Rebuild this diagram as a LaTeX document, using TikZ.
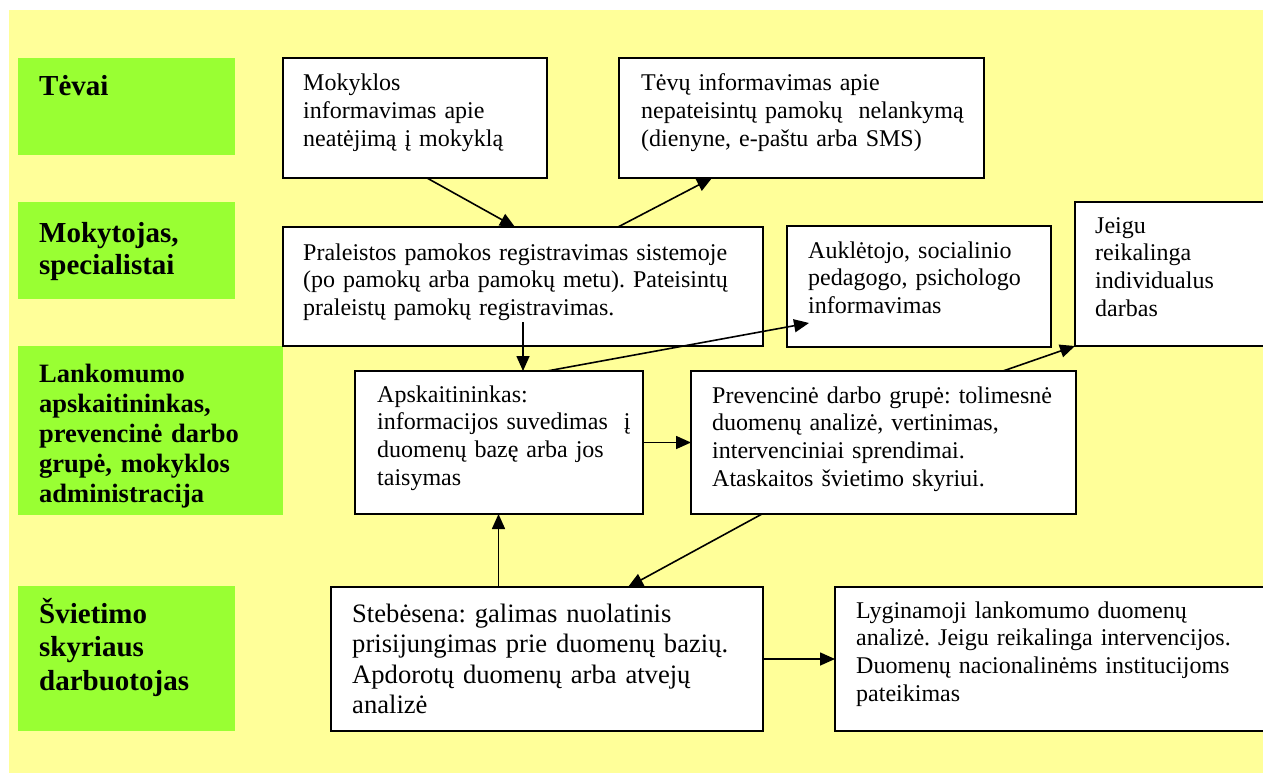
\documentclass[tikz,border=0pt]{standalone}
\usepackage{fontspec}
\setmainfont{Liberation Serif}
\usetikzlibrary{arrows.meta}
\definecolor{bgyellow}{RGB}{255,255,153}
\definecolor{lanegreen}{RGB}{153,255,51}
\frenchspacing
\begin{document}
\begin{tikzpicture}[x=1pt,y=-1pt,
  lane/.style={fill=lanegreen, draw=none, inner sep=0pt, outer sep=0pt, anchor=north west},
  box/.style={fill=white, draw=black, line width=2pt, inner sep=0pt, outer sep=0pt, anchor=north west},
  lanetext/.style={anchor=base west, inner sep=0pt, text width=300pt, align=left, font=\fontsize{29}{32}\selectfont\bfseries},
  bodytext/.style={anchor=base west, inner sep=0pt, text width=600pt, align=left, font=\fontsize{24}{27.7}\selectfont},
  arr/.style={-{Triangle[length=15pt,width=13pt]}, line width=1.6pt, draw=black}
]
\useasboundingbox (0,0) rectangle (1263,773);
\fill[bgyellow] (9,10) rectangle (1263,773);

% lanes
\node[lane, minimum width=217pt, minimum height=97pt] (l1) at (18,58) {};
\node[lane, minimum width=217pt, minimum height=97pt] (l2) at (18,202) {};
\node[lane, minimum width=265pt, minimum height=169pt] (l3) at (18,346) {};
\node[lane, minimum width=217pt, minimum height=145pt] (l4) at (18,586) {};

\node[lanetext] (t1) at (39,96) {Tėvai};
\node[lanetext] (t2) at (39,242) {Mokytojas,\\specialistai};
\node[lanetext, font=\fontsize{26.5}{30}\selectfont\bfseries] (t3) at (39,382) {Lankomumo\\apskaitininkas,\\prevencinė darbo\\grupė, mokyklos\\administracija};
\node[lanetext, font=\fontsize{29}{33.5}\selectfont\bfseries] (t4) at (39,623) {Švietimo\\skyriaus\\darbuotojas};

% boxes
\node[box, minimum width=264pt, minimum height=120pt] (sch) at (283,58) {};
\node[box, minimum width=365pt, minimum height=120pt] (par) at (619,58) {};
\node[box, minimum width=480pt, minimum height=119pt] (reg) at (283,227) {};
\node[box, minimum width=264pt, minimum height=121pt] (auk) at (787,226) {};
\node[box, minimum width=200pt, minimum height=144pt] (jei) at (1075,202) {};
\node[box, minimum width=288pt, minimum height=143pt] (aps) at (355,371) {};
\node[box, minimum width=385pt, minimum height=143pt] (prev) at (691,371) {};
\node[box, minimum width=432pt, minimum height=144pt] (steb) at (331,587) {};
\node[box, minimum width=440pt, minimum height=144pt] (lyg) at (835,587) {};

% box texts
\node[bodytext] (sch-t) at (303,91) {Mokyklos\\informavimas apie\\neatėjimą į mokyklą};
\node[bodytext] (par-t) at (641,91) {Tėvų informavimas apie\\nepateisintų pamokų\ \ nelankymą\\(dienyne, e-paštu arba SMS)};
\node[bodytext] (reg-t) at (303,260) {Praleistos pamokos registravimas sistemoje\\(po pamokų arba pamokų metu). Pateisintų\\praleistų pamokų registravimas.};
\node[bodytext] (auk-t) at (808,258) {Auklėtojo, socialinio\\pedagogo, psichologo\\informavimas};
\node[bodytext] (jei-t) at (1095,233) {Jeigu\\reikalinga\\individualus\\darbas};
\node[bodytext] (aps-t) at (377,402) {Apskaitininkas:\\informacijos suvedimas\ \ į\\duomenų bazę arba jos\\taisymas};
\node[bodytext] (prev-t) at (712,403) {Prevencinė darbo grupė: tolimesnė\\duomenų analizė, vertinimas,\\intervenciniai sprendimai.\\Ataskaitos švietimo skyriui.};
\node[bodytext, font=\fontsize{26.6}{30.6}\selectfont] (steb-t) at (352,622) {Stebėsena: galimas nuolatinis\\prisijungimas prie duomenų bazių.\\Apdorotų duomenų arba atvejų\\analizė};
\node[bodytext] (lyg-t) at (856,618) {Lyginamoji lankomumo duomenų\\analizė. Jeigu reikalinga intervencijos.\\Duomenų nacionalinėms institucijoms\\pateikimas};

% connectors
\draw[arr] ([xshift=144pt]sch.south west) -- ([xshift=232pt]reg.north west);
\draw[arr] ([xshift=335pt]reg.north west) -- ([xshift=93pt]par.south west);
\draw[arr] ([xshift=240pt,yshift=24pt]reg.south west) -- ([xshift=168pt]aps.north west);
\draw[arr] ([xshift=192pt]aps.north west) -- ([xshift=22pt,yshift=24pt]auk.south west);
\draw[arr] (aps.east) -- (prev.west);
\draw[arr] ([xshift=312pt]prev.north west) -- (jei.south west);
\draw[arr] ([xshift=71pt]prev.south west) -- ([xshift=297pt]steb.north west);
\draw[arr] ([xshift=167.5pt]steb.north west) -- ([xshift=143.5pt]aps.south west);
\draw[arr] (steb.east) -- (lyg.west);
\end{tikzpicture}
\end{document}
